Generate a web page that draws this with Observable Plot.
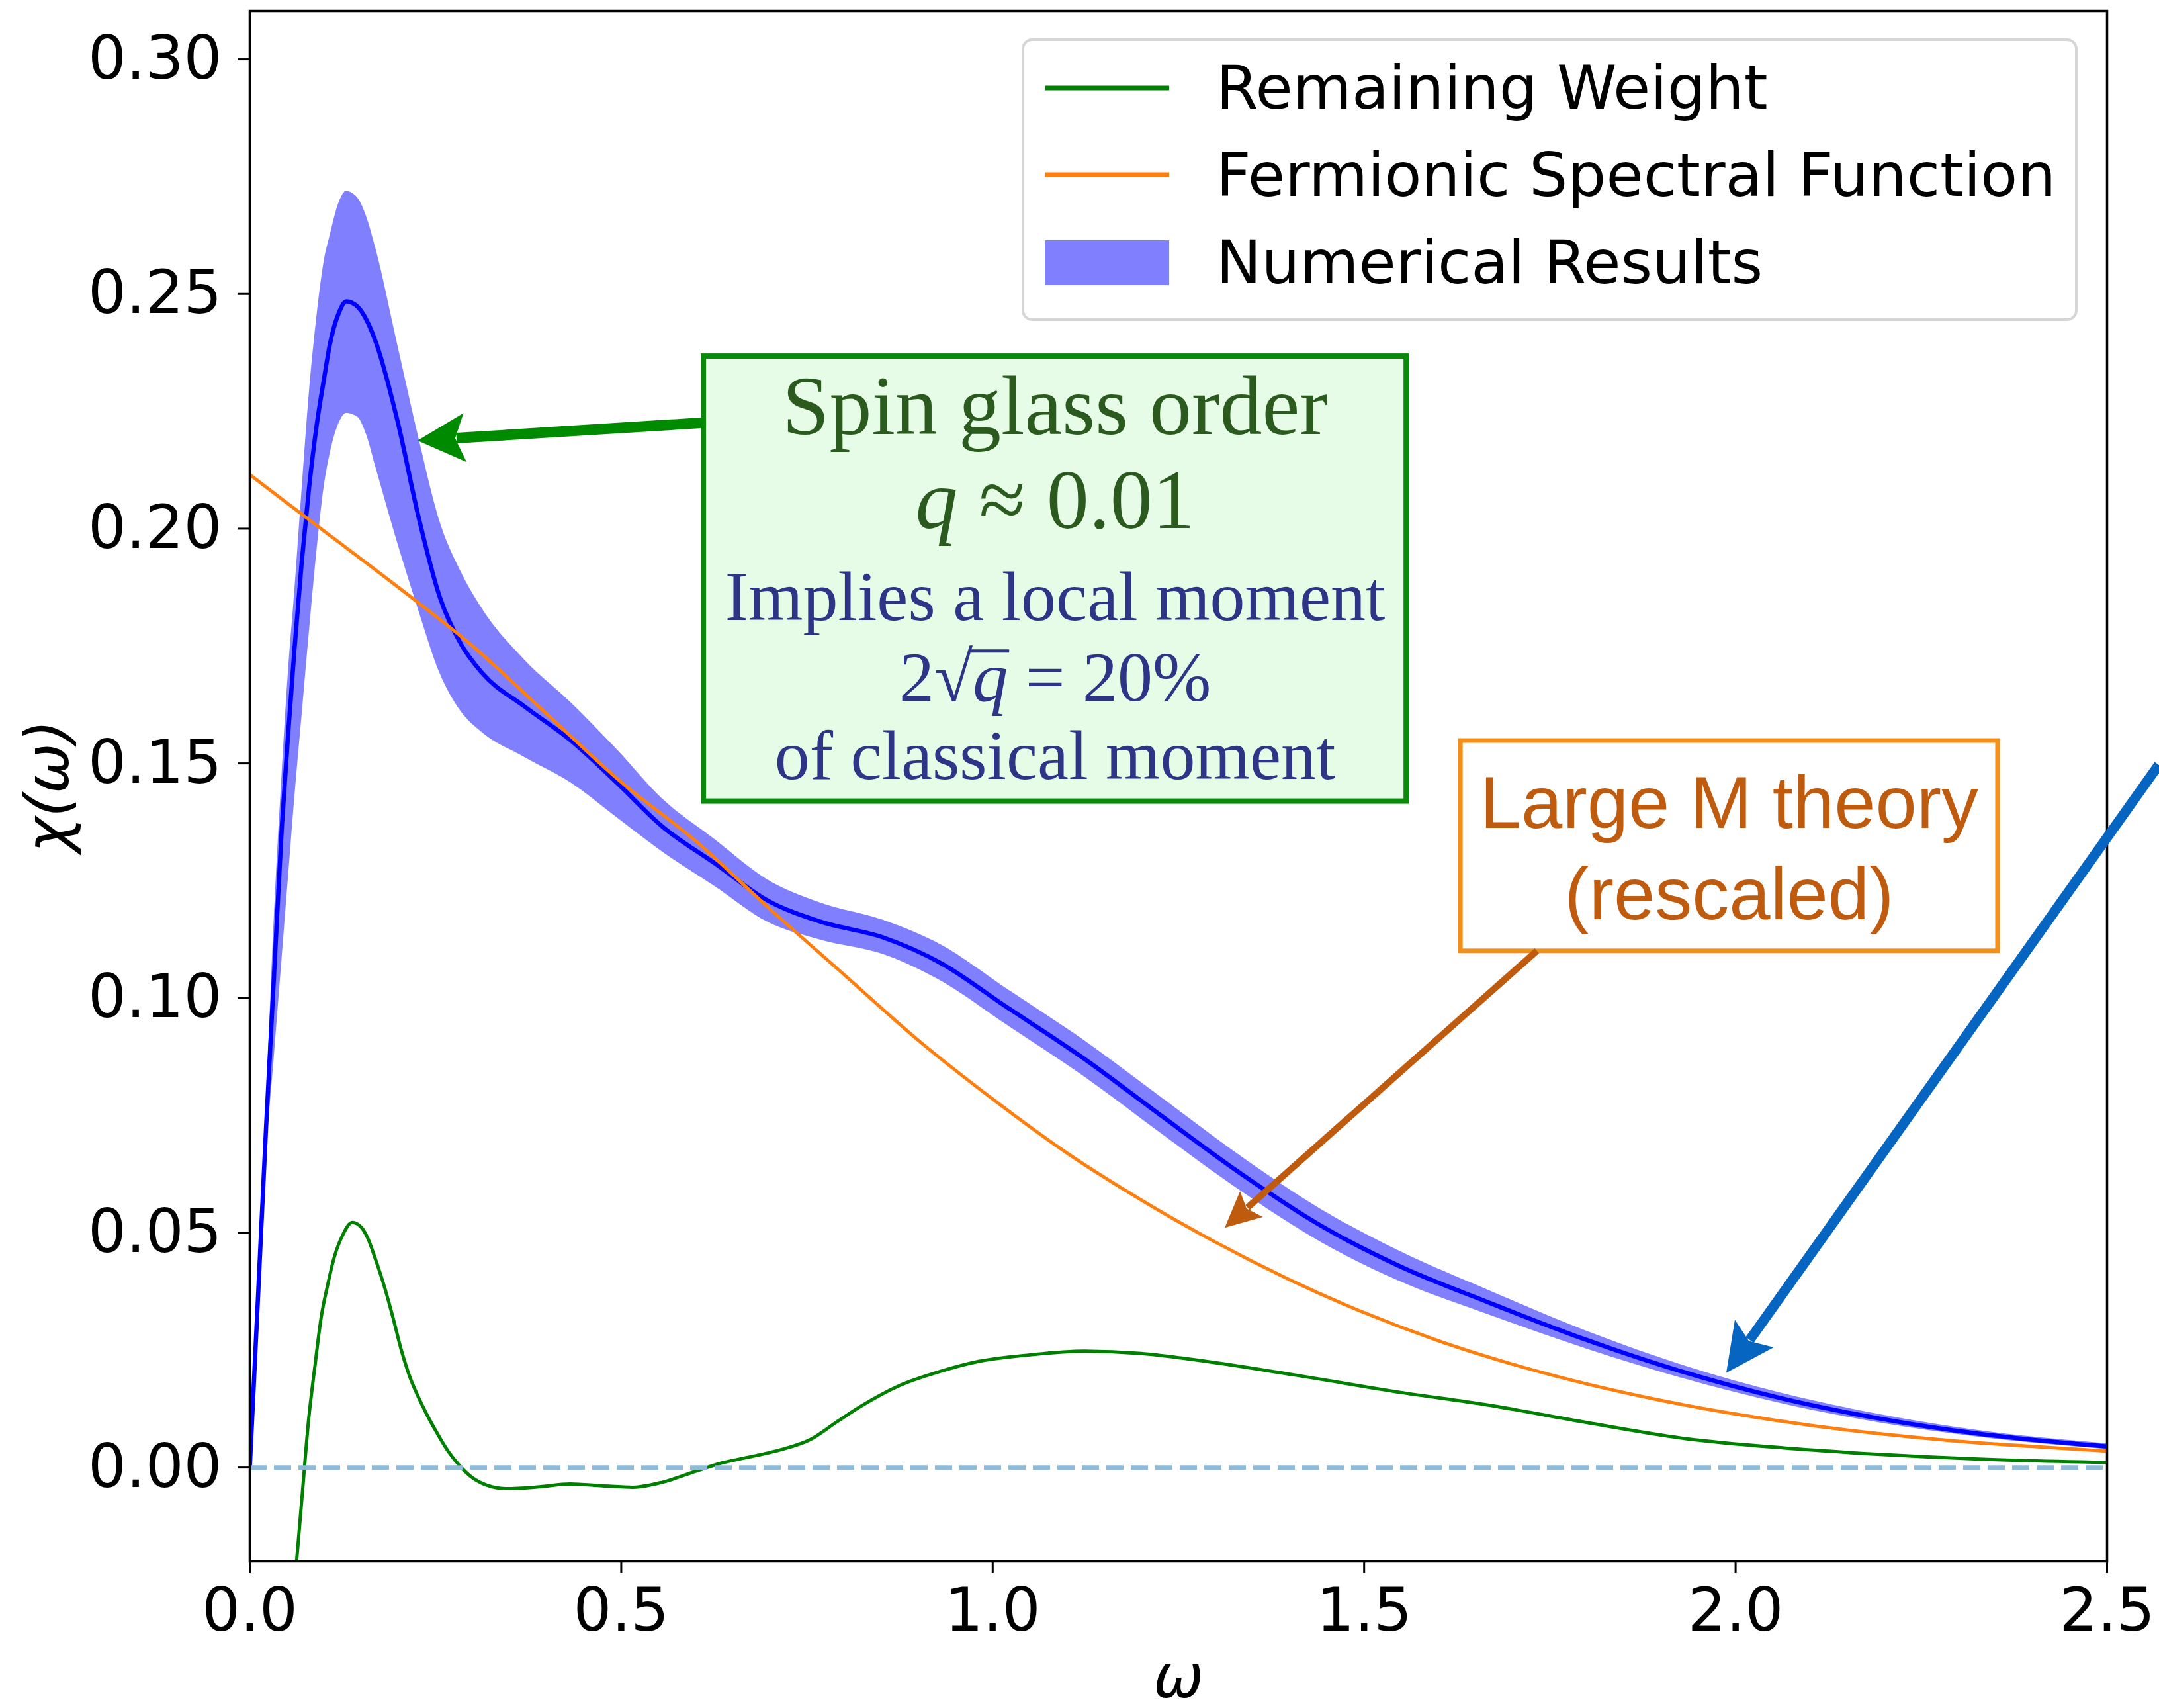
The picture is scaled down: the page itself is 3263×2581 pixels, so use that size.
<!DOCTYPE html>
<html><head><meta charset="utf-8">
<script src="https://cdn.jsdelivr.net/npm/d3@7"></script>
<script src="https://cdn.jsdelivr.net/npm/@observablehq/plot@0.6"></script>
<style>body{margin:0;background:#fff}</style>
</head><body><div id="chart"></div>
<script>
// ---- data ----
const numOmega = [0, 0.011, 0.022, 0.033, 0.043, 0.052, 0.06, 0.07, 0.08, 0.09, 0.10, 0.108, 0.12, 0.13, 0.145, 0.157, 0.17, 0.1986, 0.227, 0.2556, 0.284, 0.3126, 0.37, 0.432, 0.494, 0.555, 0.626, 0.697, 0.768, 0.853, 0.931, 1.016, 1.123, 1.229, 1.336, 1.442, 1.549, 1.667, 1.799, 1.931, 2.063, 2.195, 2.327, 2.5];
const numMean = [0, 0.036, 0.0727, 0.106, 0.136, 0.157, 0.174, 0.193, 0.209, 0.222, 0.232, 0.2394, 0.2460, 0.2484, 0.2473, 0.2445, 0.2396, 0.2231, 0.2026, 0.1855, 0.1755, 0.1693, 0.1621, 0.1549, 0.1459, 0.1366, 0.1287, 0.1208, 0.1163, 0.1129, 0.1074, 0.0984, 0.0871, 0.0747, 0.0624, 0.0515, 0.0428, 0.0352, 0.0272, 0.0203, 0.0147, 0.0104, 0.0072, 0.0045];
const numLow = [0, 0.034, 0.066, 0.088, 0.108, 0.126, 0.142, 0.160, 0.178, 0.195, 0.209, 0.216, 0.2225, 0.2246, 0.2238, 0.2200, 0.2128, 0.1971, 0.1827, 0.1693, 0.1611, 0.1566, 0.1513, 0.1459, 0.1385, 0.1312, 0.1238, 0.1162, 0.1124, 0.1093, 0.1036, 0.0946, 0.0833, 0.0709, 0.0587, 0.0480, 0.0396, 0.0326, 0.0253, 0.0189, 0.0136, 0.0095, 0.0065, 0.0039];
const numHigh = [0, 0.038, 0.077, 0.118, 0.147, 0.170, 0.186, 0.208, 0.229, 0.245, 0.257, 0.2625, 0.2695, 0.2719, 0.2705, 0.2665, 0.2594, 0.2394, 0.2196, 0.2016, 0.1909, 0.1830, 0.172, 0.1630, 0.1530, 0.1425, 0.1338, 0.1252, 0.1203, 0.1166, 0.1113, 0.1023, 0.0910, 0.0786, 0.0661, 0.0550, 0.0460, 0.0378, 0.0291, 0.0217, 0.0158, 0.0113, 0.0079, 0.0051];

const fermOmega = [0, 0.1, 0.2, 0.3, 0.4, 0.5, 0.6, 0.7, 0.8, 0.9, 1.0, 1.1, 1.2, 1.3, 1.4, 1.5, 1.6, 1.7, 1.8, 1.9, 2.0, 2.1, 2.2, 2.3, 2.4, 2.5];
const fermValue = [0.2115, 0.1995, 0.1875, 0.1750, 0.1605, 0.1460, 0.1335, 0.1190, 0.1050, 0.0910, 0.0785, 0.0670, 0.0570, 0.0480, 0.0400, 0.0330, 0.0270, 0.0220, 0.0178, 0.0143, 0.0114, 0.0090, 0.0071, 0.0056, 0.0045, 0.0035];

const remOmega = [0, 0.04, 0.055, 0.063, 0.071, 0.079, 0.088, 0.096, 0.105, 0.113, 0.125, 0.138, 0.15, 0.159, 0.17, 0.182, 0.193, 0.204, 0.215, 0.227, 0.238, 0.249, 0.266, 0.283, 0.30, 0.318, 0.346, 0.39, 0.431, 0.475, 0.516, 0.556, 0.60, 0.636, 0.68, 0.715, 0.755, 0.789, 0.822, 0.875, 0.93, 0.981, 1.05, 1.123, 1.2, 1.265, 1.407, 1.549, 1.667, 1.799, 1.931, 2.063, 2.195, 2.327, 2.5];
const remValue = [-0.2, -0.065, -0.035, -0.02, -0.005, 0.0099, 0.022, 0.0319, 0.039, 0.0444, 0.0495, 0.0522, 0.0512, 0.0488, 0.0440, 0.0381, 0.0318, 0.0250, 0.0195, 0.0150, 0.0114, 0.0082, 0.0037, 0.0003, -0.0022, -0.0037, -0.0045, -0.0041, -0.0035, -0.0039, -0.0042, -0.0031, -0.0008, 0.001, 0.0025, 0.0038, 0.006, 0.0096, 0.013, 0.0175, 0.0205, 0.0226, 0.0240, 0.0248, 0.0243, 0.0231, 0.0197, 0.0160, 0.0133, 0.0096, 0.0062, 0.0042, 0.0028, 0.0018, 0.0011];

const xTicks = [0, 0.5, 1.0, 1.5, 2.0, 2.5];
const yTicks = [0, 0.05, 0.10, 0.15, 0.20, 0.25, 0.30];
const xLabel = "ω";
const yLabel = "χ(ω)";
const legendLabels = ["Remaining Weight", "Fermionic Spectral Function", "Numerical Results"];

// annotation boxes (data coordinates)
const boxX1 = [0.611, 1.630];
const boxX2 = [1.557, 2.353];
const boxY1 = [0.2367, 0.1548];
const boxY2 = [0.1419, 0.1100];
const serifLines = ["Spin glass order", "q ≈ 0.01", "Implies a local moment", "2√q = 20%", "of classical moment"];
const serifLineY = [0.2201, 0.2001, 0.1805, 0.1634, 0.1467];
const sansLines = ["Large M theory", "(rescaled)"];
const sansLineY = [0.1362, 0.1168];
// arrows (data coordinates)
const arrowTailW = [0.611, 1.733, 2.570];
const arrowTailV = [0.2225, 0.1100, 0.1496];
const arrowTipW = [0.2262, 1.3128, 1.9879];
const arrowTipV = [0.2187, 0.0510, 0.0201];

// ---- tables ----
const num = numOmega.map((w, i) => ({w, mean: numMean[i], lo: numLow[i], hi: numHigh[i]}));
const ferm = fermOmega.map((w, i) => ({w, v: fermValue[i]}));
const rem = remOmega.map((w, i) => ({w, v: remValue[i]}));
const boxes = boxX1.map((x1, i) => ({x1, x2: boxX2[i], y1: boxY1[i], y2: boxY2[i],
  fill: ["#e6fce6", "#ffffff"][i], stroke: ["#0a8a0a", "#f39019"][i], sw: [8, 7][i]}));
const serifData = serifLines.map((t, i) => ({t, x: 1.084, y: serifLineY[i],
  size: i < 2 ? 128 : 106, color: i < 2 ? "#2b5a1f" : "#2e3486"}));
const sansData = sansLines.map((t, i) => ({t, x: 1.9914, y: sansLineY[i]}));

const W = 3263, H = 2581;
const crv = "monotone-x";
const plot = Plot.plot({
  width: W, height: H,
  marginLeft: 377, marginRight: 79, marginTop: 16, marginBottom: 222,
  x: {domain: [0, 2.5]},
  y: {domain: [-0.02, 0.3103]},
  color: {type: "identity"},
  style: {fontFamily: "DejaVu Sans", fontSize: "91px", background: "white", overflow: "visible", color: "black"},
  marks: [
    Plot.areaY(num, {x: "w", y1: "lo", y2: "hi", fill: "#8080ff", curve: crv, clip: true}),
    Plot.line(num, {x: "w", y: "mean", stroke: "#0000ff", strokeWidth: 6.5, curve: crv, clip: true}),
    Plot.line(rem, {x: "w", y: "v", stroke: "#008000", strokeWidth: 5, curve: crv, clip: true}),
    Plot.ruleY([0], {stroke: "#8fbbd9", strokeWidth: 7, strokeDasharray: "26,11"}),
    Plot.line(ferm, {x: "w", y: "v", stroke: "#ff7f0e", strokeWidth: 5, curve: crv, clip: true}),
    Plot.rect(boxes, {x1: "x1", x2: "x2", y1: "y1", y2: "y2", fill: "fill", stroke: "stroke", strokeWidth: "sw"}),
    Plot.text(serifData, {x: "x", y: "y", text: "t", fill: "color", fontSize: "size", fontFamily: "Liberation Serif", textAnchor: "middle", lineAnchor: "bottom"}),
    Plot.text(sansData, {x: "x", y: "y", text: "t", fill: "#bf5b0f", fontSize: 112, fontFamily: "Liberation Sans", textAnchor: "middle", lineAnchor: "bottom"}),
    Plot.axisX({ticks: xTicks, tickFormat: d => d.toFixed(1), tickSize: 18, tickPadding: 22, strokeWidth: 3, label: null}),
    Plot.axisY({ticks: yTicks, tickFormat: d => d.toFixed(2), tickSize: 18, tickPadding: 24, strokeWidth: 3, label: null}),
    Plot.frame({stroke: "black", strokeWidth: 3.5}),
    Plot.text([xLabel], {frameAnchor: "bottom", dy: 176, fontStyle: "italic", textAnchor: "middle", lineAnchor: "middle"}),
    Plot.text([yLabel], {frameAnchor: "left", dx: -304, rotate: -90, fontStyle: "italic", textAnchor: "middle", lineAnchor: "middle"})
  ]
});
document.getElementById("chart").appendChild(plot);

const svg = d3.select(plot);
// math formatting inside the annotation
svg.selectAll("text").each(function () {
  const s = d3.select(this);
  if (this.textContent === "q ≈ 0.01") {
    s.text(null);
    s.append("tspan").attr("font-style", "italic").text("q");
    s.append("tspan").text(" ≈ 0.01");
  } else if (this.textContent === "2√q = 20%") {
    s.text(null);
    s.append("tspan").text("2√");
    s.append("tspan").attr("font-style", "italic").text("q");
    s.append("tspan").text(" = 20%");
    // vinculum over q
    const r = this.getExtentOfChar(1), q = this.getExtentOfChar(2);
    const base = this.getStartPositionOfChar(2).y;
    const fs = parseFloat(getComputedStyle(this).fontSize) || 106;
    d3.select(this.parentNode).append("line")
      .attr("transform", s.attr("transform"))
      .attr("x1", r.x + r.width - 3).attr("x2", q.x + q.width + 2)
      .attr("y1", base - 0.705 * fs).attr("y2", base - 0.705 * fs)
      .attr("stroke", "#2e3486").attr("stroke-width", 5);
  }
});

// arrows with filled heads, positioned through Plot's scales
const sx = plot.scale("x"), sy = plot.scale("y");
const arrowStyle = [
  {color: "#008a00", sw: 16, L: 72, hw: 37, notch: 15},
  {color: "#bf5b0f", sw: 10, L: 54, hw: 26, notch: 10},
  {color: "#0565c0", sw: 15, L: 73, hw: 36, notch: 14}
];
const ag = svg.append("g");
arrowTailW.forEach((tw, i) => {
  const st = arrowStyle[i];
  const S = [sx.apply(tw), sy.apply(arrowTailV[i])];
  const T = [sx.apply(arrowTipW[i]), sy.apply(arrowTipV[i])];
  const dx = S[0] - T[0], dy = S[1] - T[1], len = Math.hypot(dx, dy);
  const u = [dx / len, dy / len], n = [-u[1], u[0]];
  const B = [T[0] + u[0] * (st.L - st.notch), T[1] + u[1] * (st.L - st.notch)];
  const C = [T[0] + u[0] * st.L, T[1] + u[1] * st.L];
  ag.append("line").attr("x1", S[0]).attr("y1", S[1]).attr("x2", B[0] + u[0] * 2).attr("y2", B[1] + u[1] * 2)
    .attr("stroke", st.color).attr("stroke-width", st.sw);
  const pts = [T, [C[0] + n[0] * st.hw, C[1] + n[1] * st.hw], B, [C[0] - n[0] * st.hw, C[1] - n[1] * st.hw]];
  ag.append("path").attr("d", "M" + pts.map(p => p.join(",")).join("L") + "Z").attr("fill", st.color);
});

// legend
const lg = svg.append("g").attr("text-anchor", "start");
lg.append("rect").attr("x", 1546).attr("y", 60).attr("width", 1592).attr("height", 423).attr("rx", 14)
  .attr("fill", "white").attr("fill-opacity", 0.8).attr("stroke", "#d6d6d6").attr("stroke-width", 4);
const rowY = [133, 264, 397];
const baseY = [164, 296, 428];
const legendColors = ["#008000", "#ff7f0e", "#8080ff"];
legendLabels.forEach((lab, i) => {
  if (i < 2) {
    lg.append("line").attr("x1", 1579).attr("x2", 1767).attr("y1", rowY[i]).attr("y2", rowY[i])
      .attr("stroke", legendColors[i]).attr("stroke-width", 7);
  } else {
    lg.append("rect").attr("x", 1579).attr("y", rowY[i] - 34).attr("width", 188).attr("height", 68).attr("fill", legendColors[i]);
  }
  lg.append("text").attr("x", 1838).attr("y", baseY[i]).attr("text-anchor", "start").attr("font-family", "DejaVu Sans")
    .attr("font-size", 91.5).attr("fill", "black").text(lab);
});
</script>
</body></html>
